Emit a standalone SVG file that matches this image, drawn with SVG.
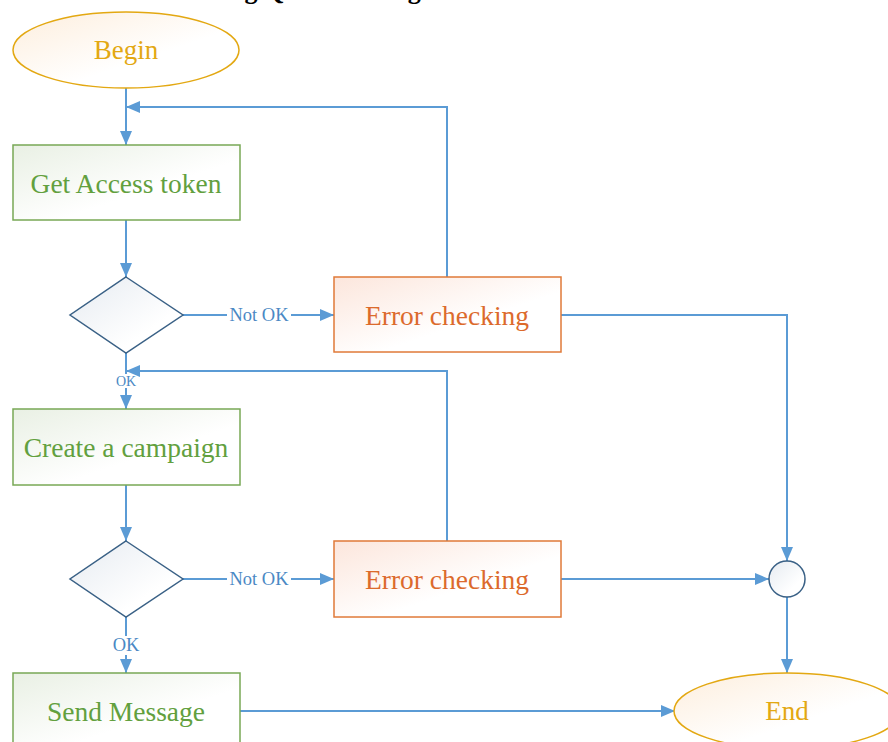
<svg xmlns="http://www.w3.org/2000/svg" width="888" height="742" viewBox="0 0 888 742">
  <defs>
    <linearGradient id="gTerm" x1="0" y1="0" x2="1" y2="1">
      <stop offset="0" stop-color="#fdeedd"/>
      <stop offset="0.6" stop-color="#ffffff"/>
    </linearGradient>
    <linearGradient id="gProc" x1="0" y1="0" x2="1" y2="1">
      <stop offset="0" stop-color="#e9f0e4"/>
      <stop offset="0.6" stop-color="#ffffff"/>
    </linearGradient>
    <linearGradient id="gErr" x1="0" y1="0" x2="1" y2="1">
      <stop offset="0" stop-color="#fce6dc"/>
      <stop offset="0.6" stop-color="#ffffff"/>
    </linearGradient>
    <linearGradient id="gDec" x1="0" y1="0" x2="1" y2="1">
      <stop offset="0" stop-color="#e6ebf1"/>
      <stop offset="0.7" stop-color="#ffffff"/>
    </linearGradient>
    <marker id="arr" viewBox="0 0 14 12" refX="14" refY="6" markerWidth="14" markerHeight="12" markerUnits="userSpaceOnUse" orient="auto">
      <path d="M0,0 L14,6 L0,12 Z" fill="#5b9bd5"/>
    </marker>
  </defs>
  <style>
    .t { font-family: "Liberation Serif", "Times New Roman", serif; text-anchor: middle; dominant-baseline: central; }
    .term { fill: url(#gTerm); stroke: #e3a812; stroke-width: 1.5; }
    .termT { fill: #e3a812; font-size: 27px; }
    .proc { fill: url(#gProc); stroke: #78a855; stroke-width: 1.5; }
    .procT { fill: #62a03e; font-size: 27.5px; }
    .err { fill: url(#gErr); stroke: #e07a38; stroke-width: 1.5; }
    .errT { fill: #dc6a2c; font-size: 27.5px; }
    .dec { fill: url(#gDec); stroke: #3a6186; stroke-width: 1.5; }
    .conn { fill: none; stroke: #5b9bd5; stroke-width: 2; }
    .lbl { fill: #4a88c4; font-size: 18.5px; }
    .title { font-family: "Liberation Serif", "Times New Roman", serif; font-weight: bold; font-size: 26px; fill: #000; }
  </style>

  <!-- title, mostly above the top edge -->
  <text class="title" x="168" y="-1">Sending Quick Message</text>

  <!-- connectors -->
  <g id="connectors">
    <line class="conn" x1="126" y1="88" x2="126" y2="145" marker-end="url(#arr)"/>
    <polyline class="conn" points="447,277 447,107 126,107" marker-end="url(#arr)"/>
    <line class="conn" x1="126" y1="220" x2="126" y2="277" marker-end="url(#arr)"/>
    <line class="conn" x1="183" y1="315" x2="227" y2="315"/>
    <line class="conn" x1="291" y1="315" x2="334" y2="315" marker-end="url(#arr)"/>
    <polyline class="conn" points="561,315 787,315 787,561" marker-end="url(#arr)"/>
    <line class="conn" x1="126" y1="353" x2="126" y2="374"/>
    <line class="conn" x1="126" y1="388" x2="126" y2="409" marker-end="url(#arr)"/>
    <polyline class="conn" points="447,541 447,371 126,371" marker-end="url(#arr)"/>
    <line class="conn" x1="126" y1="485" x2="126" y2="541" marker-end="url(#arr)"/>
    <line class="conn" x1="183" y1="579" x2="227" y2="579"/>
    <line class="conn" x1="291" y1="579" x2="334" y2="579" marker-end="url(#arr)"/>
    <line class="conn" x1="561" y1="579" x2="769" y2="579" marker-end="url(#arr)"/>
    <line class="conn" x1="787" y1="597" x2="787" y2="673" marker-end="url(#arr)"/>
    <line class="conn" x1="126" y1="617" x2="126" y2="636"/>
    <line class="conn" x1="126" y1="655" x2="126" y2="673" marker-end="url(#arr)"/>
    <line class="conn" x1="240" y1="711" x2="675" y2="711" marker-end="url(#arr)"/>
    <text class="t lbl" x="259" y="315">Not OK</text>
    <text class="t lbl" x="126" y="381" style="font-size:14px">OK</text>
    <text class="t lbl" x="259" y="579">Not OK</text>
    <text class="t lbl" x="126" y="645">OK</text>
  </g>

  <g id="begin">
    <ellipse class="term" cx="126" cy="50" rx="113" ry="38"/>
    <text class="t termT" x="126" y="50">Begin</text>
  </g>

  <g id="get-token">
    <rect class="proc" x="13" y="145" width="227" height="75"/>
    <text class="t procT" x="126" y="183">Get Access token</text>
  </g>

  <g id="check-token">
    <polygon class="dec" points="126,277 183,315 126,353 70,315"/>
  </g>

  <g id="error-1">
    <rect class="err" x="334" y="277" width="227" height="75"/>
    <text class="t errT" x="447" y="315">Error checking</text>
  </g>

  <g id="create-campaign">
    <rect class="proc" x="13" y="409" width="227" height="76"/>
    <text class="t procT" x="126" y="447">Create a campaign</text>
  </g>

  <g id="check-campaign">
    <polygon class="dec" points="126,541 183,579 126,617 70,579"/>
  </g>

  <g id="error-2">
    <rect class="err" x="334" y="541" width="227" height="76"/>
    <text class="t errT" x="447" y="579">Error checking</text>
  </g>

  <g id="merge">
    <circle class="dec" cx="787" cy="579" r="18"/>
  </g>

  <g id="send-message">
    <rect class="proc" x="13" y="673" width="227" height="76"/>
    <text class="t procT" x="126" y="711">Send Message</text>
  </g>

  <g id="end">
    <ellipse class="term" cx="787" cy="711" rx="113" ry="38"/>
    <text class="t termT" x="787" y="711">End</text>
  </g>
</svg>
